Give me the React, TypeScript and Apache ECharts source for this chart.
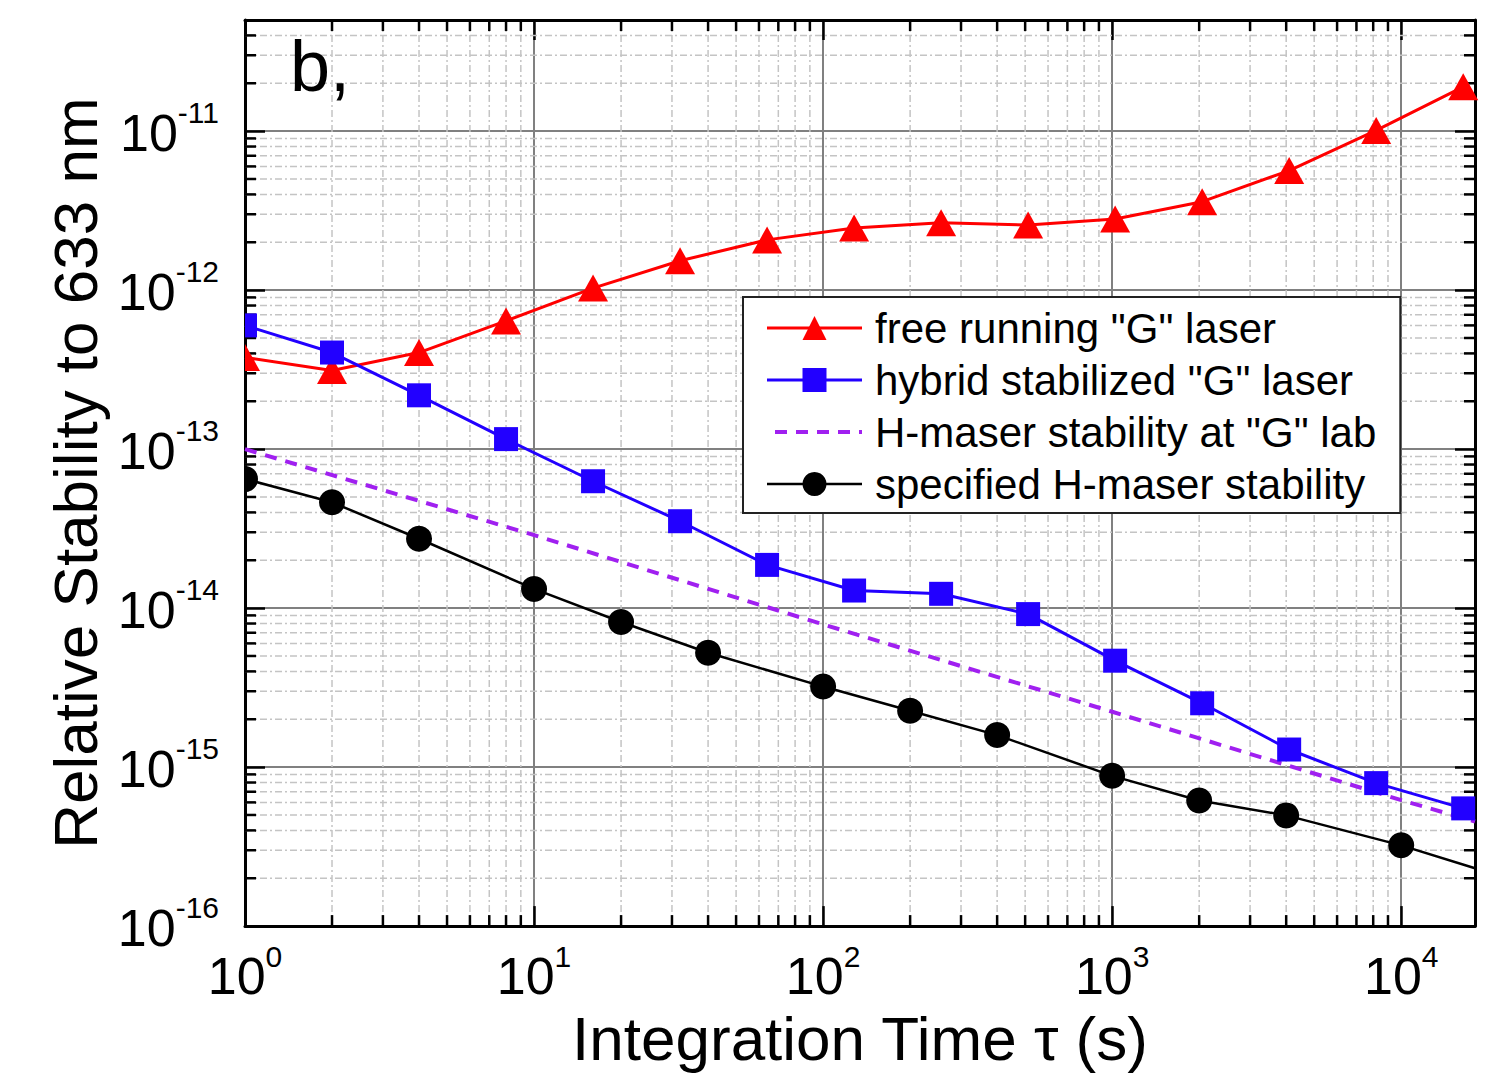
import React, { useEffect, useRef } from "react";
import * as echarts from "echarts";

const FONT = '"Liberation Sans", Arial, sans-serif';

// Integration times (s)
const tauPow2 = [1, 2, 4, 8, 16, 32, 64, 128, 256, 512, 1024, 2048, 4096, 8192, 16384];
const tauSpec = [1, 2, 4, 10, 20, 40, 100, 200, 400, 1000, 2000, 4000, 10000, 18000];
const tauLab = [1, 10, 100, 1000, 10000, 18000];

// Series values
const freeRunning = [3.77e-13, 3.12e-13, 4.05e-13, 6.4e-13, 1.03e-12, 1.53e-12, 2.07e-12, 2.46e-12, 2.65e-12, 2.57e-12, 2.8e-12, 3.6e-12, 5.65e-12, 1.01e-11, 1.9e-11];
const hybrid = [6.0e-13, 4.05e-13, 2.18e-13, 1.156e-13, 6.28e-14, 3.52e-14, 1.87e-14, 1.29e-14, 1.23e-14, 9.17e-15, 4.67e-15, 2.52e-15, 1.29e-15, 7.93e-16, 5.5e-16];
const maserLab = [1.0e-13, 2.88e-14, 7.9e-15, 2.23e-15, 6.2e-16, 4.55e-16];
const maserSpec = [6.49e-14, 4.63e-14, 2.73e-14, 1.32e-14, 8.18e-15, 5.24e-15, 3.21e-15, 2.26e-15, 1.59e-15, 8.81e-16, 6.17e-16, 4.97e-16, 3.22e-16, 2.31e-16];

const seriesNames = [
  'free running "G" laser',
  'hybrid stabilized "G" laser',
  'H-maser stability at "G" lab',
  "specified H-maser stability",
];

// Axis extents and minor tick positions
const X_MIN = 1;
const X_MAX = 18000;
const Y_MIN = 1e-16;
const Y_MAX = 5e-11;
const xMinor = [2, 3, 4, 5, 6, 7, 8, 9, 20, 30, 40, 50, 60, 70, 80, 90, 200, 300, 400, 500, 600, 700, 800, 900, 2000, 3000, 4000, 5000, 6000, 7000, 8000, 9000];
const yMinor = [
  2e-16, 3e-16, 4e-16, 5e-16, 6e-16, 7e-16, 8e-16, 9e-16,
  2e-15, 3e-15, 4e-15, 5e-15, 6e-15, 7e-15, 8e-15, 9e-15,
  2e-14, 3e-14, 4e-14, 5e-14, 6e-14, 7e-14, 8e-14, 9e-14,
  2e-13, 3e-13, 4e-13, 5e-13, 6e-13, 7e-13, 8e-13, 9e-13,
  2e-12, 3e-12, 4e-12, 5e-12, 6e-12, 7e-12, 8e-12, 9e-12,
  2e-11, 3e-11, 4e-11,
];

const HALF_TRI = "path://M0,0L1,2L0,2Z";
const HALF_RECT = "path://M0,0L1,0L1,2L0,2Z";
const HALF_CIRC = "path://M0,0C0.5523,0 1,0.4477 1,1C1,1.5523 0.5523,2 0,2Z";

function powLabel(v: number): string {
  const lg = Math.log10(v);
  const e = Math.round(lg);
  if (Math.abs(lg - e) > 1e-6) return "";
  return `{b|10}{s|${e}}`;
}

const labelRich = {
  b: { fontSize: 52, fontFamily: FONT, color: "#000", padding: [9, 0, 0, 0], verticalAlign: "bottom" },
  s: { fontSize: 30, fontFamily: FONT, color: "#000", verticalAlign: "top" },
};

export default function App() {
  const ref = useRef<HTMLDivElement>(null);
  useEffect(() => {
    if (!ref.current) return;
    const chart = echarts.init(ref.current, undefined, { renderer: "svg" });

    const pair = (xs: number[], ys: number[]) => xs.map((x, i) => [x, ys[i]]);

    const redData: any[] = pair(tauPow2, freeRunning);
    redData[0] = { value: redData[0], symbol: HALF_TRI, symbolSize: [15, 27], symbolOffset: [7.5, 0] };
    const blueData: any[] = pair(tauPow2, hybrid);
    blueData[0] = { value: blueData[0], symbol: HALF_RECT, symbolSize: [12, 24], symbolOffset: [6, 0] };
    const blackData: any[] = pair(tauSpec, maserSpec);
    blackData[0] = { value: blackData[0], symbol: HALF_CIRC, symbolSize: [13, 26], symbolOffset: [6.5, 0] };
    const lastIdx = blackData.length - 1;
    blackData[lastIdx] = { value: blackData[lastIdx], symbol: "none" };

    const axisBase = {
      axisLine: { show: true, onZero: false, lineStyle: { color: "#000", width: 3 } },
      axisTick: { show: true, inside: true, length: 20, lineStyle: { color: "#000", width: 2.5 } },
    };

    const option: any = {
      animation: false,
      backgroundColor: "#fff",
      grid: { left: 245, right: 27, top: 20, bottom: 144, containLabel: false },
      xAxis: [
        {
          type: "log",
          logBase: 10,
          min: X_MIN,
          max: X_MAX,
          position: "bottom",
          ...axisBase,
          splitLine: { show: true, lineStyle: { color: "#808080", width: 2 } },
          axisLabel: { formatter: powLabel, rich: labelRich, margin: 15 },
          name: "Integration Time τ (s)",
          nameLocation: "middle",
          nameGap: 80,
          nameTextStyle: { fontSize: 62, fontFamily: FONT, color: "#000" },
        },
        {
          type: "log",
          logBase: 10,
          min: X_MIN,
          max: X_MAX,
          position: "top",
          ...axisBase,
          splitLine: { show: false },
          axisLabel: { show: false },
        },
      ],
      yAxis: [
        {
          type: "log",
          logBase: 10,
          min: Y_MIN,
          max: Y_MAX,
          position: "left",
          ...axisBase,
          splitLine: { show: true, lineStyle: { color: "#808080", width: 2 } },
          axisLabel: { formatter: powLabel, rich: labelRich, margin: 26, padding: [0, 0, 6, 0] },
          name: "Relative Stability to 633 nm",
          nameLocation: "middle",
          nameGap: 132,
          nameTextStyle: { fontSize: 62, fontFamily: FONT, color: "#000" },
        },
        {
          type: "log",
          logBase: 10,
          min: Y_MIN,
          max: Y_MAX,
          position: "right",
          ...axisBase,
          splitLine: { show: false },
          axisLabel: { show: false },
        },
      ],
      legend: {
        orient: "vertical",
        left: 743,
        top: 297,
        data: [
          { name: seriesNames[0], lineStyle: { width: 3, color: "#ff0000" } },
          { name: seriesNames[1], lineStyle: { width: 3, color: "#2200ff" } },
          { name: seriesNames[2], itemStyle: { opacity: 0 }, lineStyle: { width: 4, color: "#a020f0", type: [12, 9], dashOffset: -8 } },
          { name: seriesNames[3], lineStyle: { width: 2.5, color: "#000" } },
        ],
        itemWidth: 95,
        itemHeight: 30,
        itemGap: 0,
        padding: [5, 24, 3, 22],
        backgroundColor: "#fff",
        borderColor: "#222",
        borderWidth: 2,
        textStyle: { fontSize: 42, fontFamily: FONT, color: "#000", lineHeight: 52, padding: [0, 0, 0, 8] },
      },
      graphic: [
        {
          type: "text",
          left: 290,
          top: 30,
          z: 10,
          style: { text: "b,", font: `72px ${FONT}`, fill: "#000" },
        },
      ],
      series: [
        {
          type: "custom",
          silent: true,
          z: 1,
          data: xMinor.map((v) => [v, Y_MIN]),
          renderItem: (params: any, api: any) => {
            const p = api.coord([api.value(0), Y_MIN]);
            const cs = params.coordSys;
            const x = p[0];
            return {
              type: "group",
              children: [
                { type: "line", shape: { x1: x, y1: cs.y, x2: x, y2: cs.y + cs.height }, style: { stroke: "#c4c4c4", lineWidth: 1.5, lineDash: [7, 3, 2, 3] } },
                { type: "line", shape: { x1: x, y1: cs.y + cs.height, x2: x, y2: cs.y + cs.height - 11 }, style: { stroke: "#000", lineWidth: 2.5 } },
                { type: "line", shape: { x1: x, y1: cs.y, x2: x, y2: cs.y + 11 }, style: { stroke: "#000", lineWidth: 2.5 } },
              ],
            };
          },
        },
        {
          type: "custom",
          silent: true,
          z: 1,
          data: yMinor.map((v) => [X_MIN, v]),
          renderItem: (params: any, api: any) => {
            const p = api.coord([X_MIN, api.value(1)]);
            const cs = params.coordSys;
            const y = p[1];
            return {
              type: "group",
              children: [
                { type: "line", shape: { x1: cs.x, y1: y, x2: cs.x + cs.width, y2: y }, style: { stroke: "#c4c4c4", lineWidth: 1.5, lineDash: [7, 3, 2, 3] } },
                { type: "line", shape: { x1: cs.x, y1: y, x2: cs.x + 11, y2: y }, style: { stroke: "#000", lineWidth: 2.5 } },
                { type: "line", shape: { x1: cs.x + cs.width, y1: y, x2: cs.x + cs.width - 11, y2: y }, style: { stroke: "#000", lineWidth: 2.5 } },
              ],
            };
          },
        },
        {
          name: seriesNames[0],
          type: "line",
          data: redData,
          symbol: "triangle",
          symbolSize: [30, 27],
          color: "#ff0000",
          lineStyle: { color: "#ff0000", width: 3 },
          itemStyle: { color: "#ff0000" },
          z: 3,
        },
        {
          name: seriesNames[1],
          type: "line",
          data: blueData,
          symbol: "rect",
          symbolSize: 24,
          color: "#2200ff",
          lineStyle: { color: "#2200ff", width: 3 },
          itemStyle: { color: "#2200ff" },
          z: 3,
        },
        {
          name: seriesNames[2],
          type: "line",
          data: pair(tauLab, maserLab),
          symbol: "none",
          color: "#a020f0",
          lineStyle: { color: "#a020f0", width: 4, type: [12, 9] },
          z: 3,
        },
        {
          name: seriesNames[3],
          type: "line",
          data: blackData,
          symbol: "circle",
          symbolSize: 26,
          color: "#000",
          lineStyle: { color: "#000", width: 2.5 },
          itemStyle: { color: "#000" },
          z: 3,
        },
      ],
    };

    chart.setOption(option);
    return () => chart.dispose();
  }, []);

  return (
    <div
      ref={ref}
      style={{ position: "fixed", left: 0, top: 0, width: 1502, height: 1074, background: "#fff" }}
    />
  );
}
